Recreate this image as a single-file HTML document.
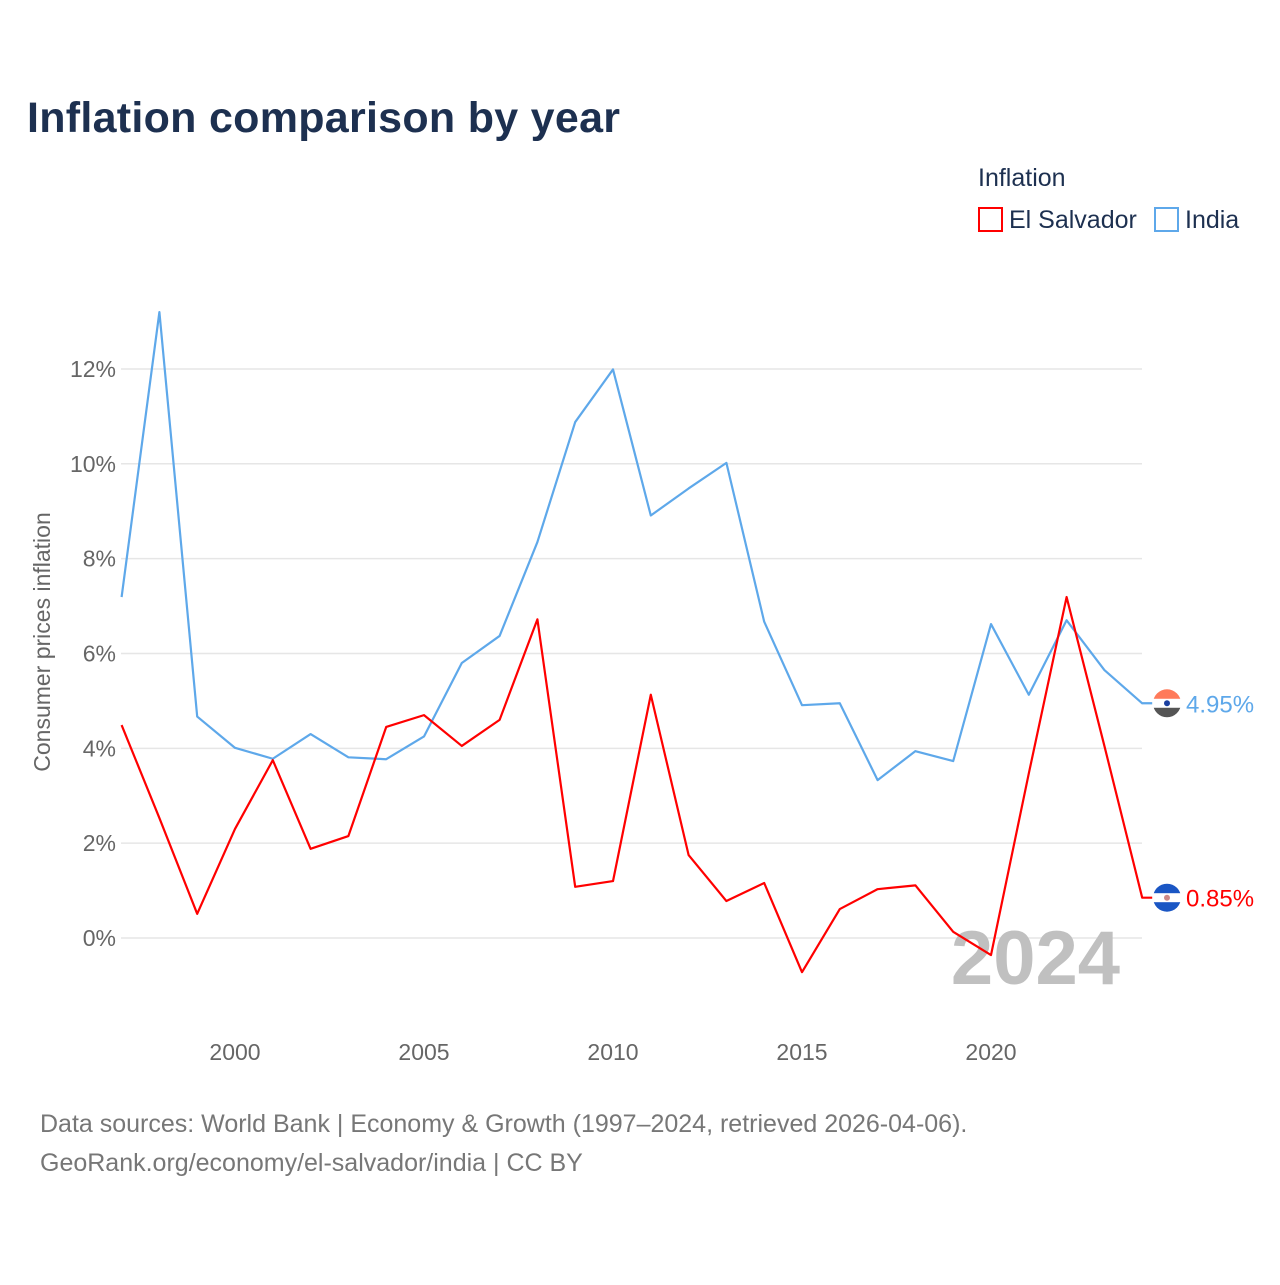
<!DOCTYPE html>
<html><head><meta charset="utf-8"><style>
body{margin:0;background:#fff;font-family:"Liberation Sans",sans-serif}
</style></head><body>
<svg id="c" width="1280" height="1280" xmlns="http://www.w3.org/2000/svg">
<text x="27" y="132" font-size="43" font-weight="bold" fill="#1d3050" textLength="593">Inflation comparison by year</text>
<text x="978" y="186" font-size="25" fill="#1d3050">Inflation</text>
<g><rect x="979" y="208" width="23" height="23" fill="none" stroke="#f00" stroke-width="2"/><text x="1009" y="228" font-size="25" fill="#1d3050">El Salvador</text></g>
<g><rect x="1155" y="208" width="23" height="23" fill="none" stroke="#5ea8ea" stroke-width="2"/><text x="1185" y="228" font-size="25" fill="#1d3050">India</text></g>
<g id="grid"></g><g id="ylab"></g><g id="xlab"></g>
<text transform="translate(50,642) rotate(-90)" text-anchor="middle" font-size="23" fill="#666">Consumer prices inflation</text>
<text x="1120" y="984" text-anchor="end" font-size="76" font-weight="bold" fill="#c0c0c0">2024</text>
<g id="lines"></g>
<text x="40" y="1132" font-size="25" fill="#777">Data sources: World Bank | Economy &amp; Growth (1997–2024, retrieved 2026-04-06).</text>
<text x="40" y="1171" font-size="25" fill="#777">GeoRank.org/economy/el-salvador/india | CC BY</text>
</svg>
<script>
const years=[1997,1998,1999,2000,2001,2002,2003,2004,2005,2006,2007,2008,2009,2010,2011,2012,2013,2014,2015,2016,2017,2018,2019,2020,2021,2022,2023,2024];
const india=[7.19,13.2,4.67,4.01,3.78,4.30,3.81,3.77,4.25,5.80,6.37,8.35,10.88,11.99,8.91,9.48,10.02,6.67,4.91,4.95,3.33,3.94,3.73,6.62,5.13,6.70,5.65,4.95];
const elsalvador=[4.49,2.53,0.51,2.30,3.75,1.88,2.15,4.45,4.70,4.05,4.60,6.72,1.08,1.20,5.13,1.75,0.78,1.16,-0.72,0.61,1.03,1.11,0.13,-0.36,3.47,7.19,4.05,0.85];
const yTicks=[0,2,4,6,8,10,12];
const xTicks=[2000,2005,2010,2015,2020];
const NS="http://www.w3.org/2000/svg";
const X=y=>235+(y-2000)*37.8;
const Y=v=>938-v*47.42;
function mk(t,a,p){const e=document.createElementNS(NS,t);for(const k in a)e.setAttribute(k,a[k]);p.appendChild(e);return e;}
const g=document.getElementById('grid'),yl=document.getElementById('ylab'),xl=document.getElementById('xlab'),L=document.getElementById('lines');
yTicks.forEach(v=>{const l=mk('line',{x1:121,x2:1142,y1:Y(v),y2:Y(v),stroke:'#e6e6e6','stroke-width':1.5},g);


const t=mk('text',{x:116,y:Y(v)+8,'text-anchor':'end','font-size':23,fill:'#666'},yl);t.textContent=v+'%';

});
xTicks.forEach(v=>{const t=mk('text',{x:X(v),y:1060,'text-anchor':'middle','font-size':23,fill:'#666'},xl);t.textContent=v;

});
function series(d,col,name,lab,top,bot){
const pts=d.map((v,i)=>X(years[i])+','+Y(v)).join(' ')+' '+(X(2024)+10)+','+Y(d[d.length-1]);
const p=mk('polyline',{points:pts,fill:'none',stroke:col,'stroke-width':2.2,'stroke-linejoin':'round'},L);


const yy=Y(d[d.length-1]);
const f=mk('g',{},L);


mk('path',{d:`M1153 ${yy} A14 14 0 0 1 1181 ${yy} Z`,fill:top},f);
mk('path',{d:`M1153 ${yy} A14 14 0 0 0 1181 ${yy} Z`,fill:bot},f);
mk('rect',{x:1153,y:yy-4.5,width:28,height:9,fill:'#fff'},f);
mk('circle',{cx:1167,cy:yy,r:3,fill:name=='india'?'#1a3fa0':'#c88'},f);
const t=mk('text',{x:1186,y:yy+9,'font-size':24,fill:col},L);t.textContent=lab;

}
series(india,'#5ea8ea','india',india[india.length-1].toFixed(2)+'%','#ff7a5a','#555');
series(elsalvador,'#f00','el-salvador',elsalvador[elsalvador.length-1].toFixed(2)+'%','#1a56c4','#1a56c4');
</script>
</body></html>
